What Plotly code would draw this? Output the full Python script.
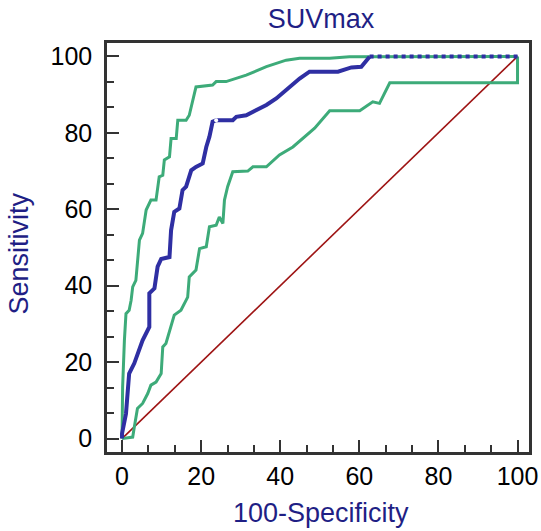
import plotly.graph_objects as go

# ROC curve (100-Specificity, Sensitivity)
roc_x = [0, 0, 1.0, 1.8, 3.1, 4.4, 5.2, 6.9, 6.9, 8.2, 9.0, 9.9, 12.0, 12.4, 13.2, 14.5, 15.3, 16.2,
         17.5, 18.7, 20.4, 21.3, 22.1, 22.9, 23.8, 28.0, 28.9, 31.4, 33.9, 36.5, 39.0, 41.5, 44.9,
         47.4, 54.6, 58.0, 60.5, 62.6]
roc_y = [0, 1.3, 6.5, 17.0, 19.7, 23.0, 25.7, 29.2, 38.0, 39.3, 45.0, 47.0, 47.5, 54.5, 59.3, 60.2, 65.0, 65.9,
         70.2, 71.1, 72.0, 76.3, 79.0, 82.9, 83.3, 83.3, 84.2, 84.6, 85.9, 87.3, 89.0, 91.2, 94.2,
         96.0, 96.0, 97.1, 97.3, 99.9]
roc_tail_x = [62.6, 100]
roc_tail_y = [100, 100]

# Optimal criterion point
opt_x = [23.8]
opt_y = [83.3]

# Upper 95% confidence bound
up_x = [0, 0.15, 0.15, 0.6, 1.0, 1.8, 2.3, 2.7, 3.5, 4.4, 4.8, 5.2, 6.1, 6.5, 7.3, 8.6, 9.4, 10.3, 10.7,
        12.0, 12.4, 13.7, 14.1, 16.2, 17.0, 18.7, 22.9, 23.8, 26.3, 31.4, 36.5, 41.5, 44.9, 52.5, 57.5, 100]
up_y = [0, 7.4, 13.5, 25.7, 32.7, 33.6, 36.2, 39.7, 41.4, 51.9, 52.8, 53.7, 59.8, 60.6, 62.4, 62.4, 68.5, 68.9, 72.9,
        73.7, 78.5, 78.5, 83.3, 83.3, 84.6, 92.0, 92.5, 93.4, 93.4, 95.1, 97.3, 99.0, 99.5, 99.5, 99.9, 100]

# Lower 95% confidence bound
lo_x = [0, 2.7, 3.1, 3.9, 5.2, 6.5, 7.3, 8.6, 9.9, 10.3, 11.1, 12.4, 13.2, 14.9, 16.6, 17.0, 18.7, 19.6,
        21.3, 22.1, 23.8, 24.6, 25.5, 25.9, 26.7, 28.0, 31.8, 33.1, 36.5, 39.8, 43.2, 48.7, 52.5, 60.1,
        63.4, 65.1, 67.7, 100, 100]
lo_y = [0, 0.4, 3.0, 7.9, 9.2, 11.8, 14.0, 14.8, 17.0, 24.0, 24.9, 29.2, 32.3, 33.6, 37.0, 42.3, 44.1, 49.7,
        50.2, 55.4, 55.8, 58.0, 56.3, 62.4, 65.9, 69.8, 70.0, 71.1, 71.1, 74.2, 76.3, 81.2, 85.8, 85.8,
        88.1, 87.7, 93.1, 93.1, 100]

# Reference diagonal
diag_x = [0, 100]
diag_y = [0, 100]

tick_vals = [0, 20, 40, 60, 80, 100]
tick_text = ["0", "20", "40", "60", "80", "100"]

GREEN = "#3dab79"
BLUE = "#2f2fa3"
NAVY = "#1f1f85"
FONT = "Liberation Sans, Arial, sans-serif"

fig = go.Figure()
fig.add_trace(go.Scatter(x=diag_x, y=diag_y, mode="lines",
                         line=dict(color="#9e1414", width=1.6), hoverinfo="skip"))
fig.add_trace(go.Scatter(x=up_x, y=up_y, mode="lines",
                         line=dict(color=GREEN, width=3)))
fig.add_trace(go.Scatter(x=lo_x, y=lo_y, mode="lines",
                         line=dict(color=GREEN, width=3)))
fig.add_trace(go.Scatter(x=roc_x, y=roc_y, mode="lines",
                         line=dict(color=BLUE, width=4)))
fig.add_trace(go.Scatter(x=roc_tail_x, y=roc_tail_y, mode="lines",
                         line=dict(color=BLUE, width=4, dash="dot")))
fig.add_trace(go.Scatter(x=opt_x, y=opt_y, mode="markers",
                         marker=dict(color="white", size=4, line=dict(width=0))))

axis_common = dict(
    showgrid=False, zeroline=False, showline=True, mirror=True,
    linecolor="#333333", linewidth=2.5, automargin=False,
    ticks="inside", ticklen=12, tickwidth=2, tickcolor="#333333",
    tickvals=tick_vals, ticktext=tick_text,
    tickfont=dict(family=FONT, size=25, color="black"),
    minor=dict(ticks="inside", ticklen=7, tickwidth=1.5, tickcolor="#333333",
               dtick=20 / 3, tick0=0),
)

fig.update_layout(
    width=541, height=531,
    margin=dict(l=107, r=12, t=43, b=79, autoexpand=False),
    paper_bgcolor="white", plot_bgcolor="white",
    showlegend=False,
    title=dict(text="SUVmax", x=321 / 541, xref="container", xanchor="center",
               y=1 - 19 / 531, yref="container", yanchor="middle",
               font=dict(family=FONT, size=27, color=NAVY)),
    xaxis=dict(range=[-3.8, 102.9], ticklabelstandoff=0, **axis_common),
    yaxis=dict(range=[-3.5, 103.5], ticklabelstandoff=7, **axis_common),
    annotations=[
        dict(text="100-Specificity", xref="paper", yref="paper",
             x=(321 - 107.5) / 421.8, y=(451.7 - 513) / 408.7,
             xanchor="center", yanchor="middle", showarrow=False,
             font=dict(family=FONT, size=27, color=NAVY)),
        dict(text="Sensitivity", xref="paper", yref="paper",
             x=(20 - 107.5) / 421.8, y=(451.7 - 253) / 408.7,
             xanchor="center", yanchor="middle", textangle=-90, showarrow=False,
             font=dict(family=FONT, size=27, color=NAVY)),
    ],
)

fig.write_html("out.html", config={"displayModeBar": False},
               post_script="document.body.style.margin='0px';document.body.style.padding='0px';")
